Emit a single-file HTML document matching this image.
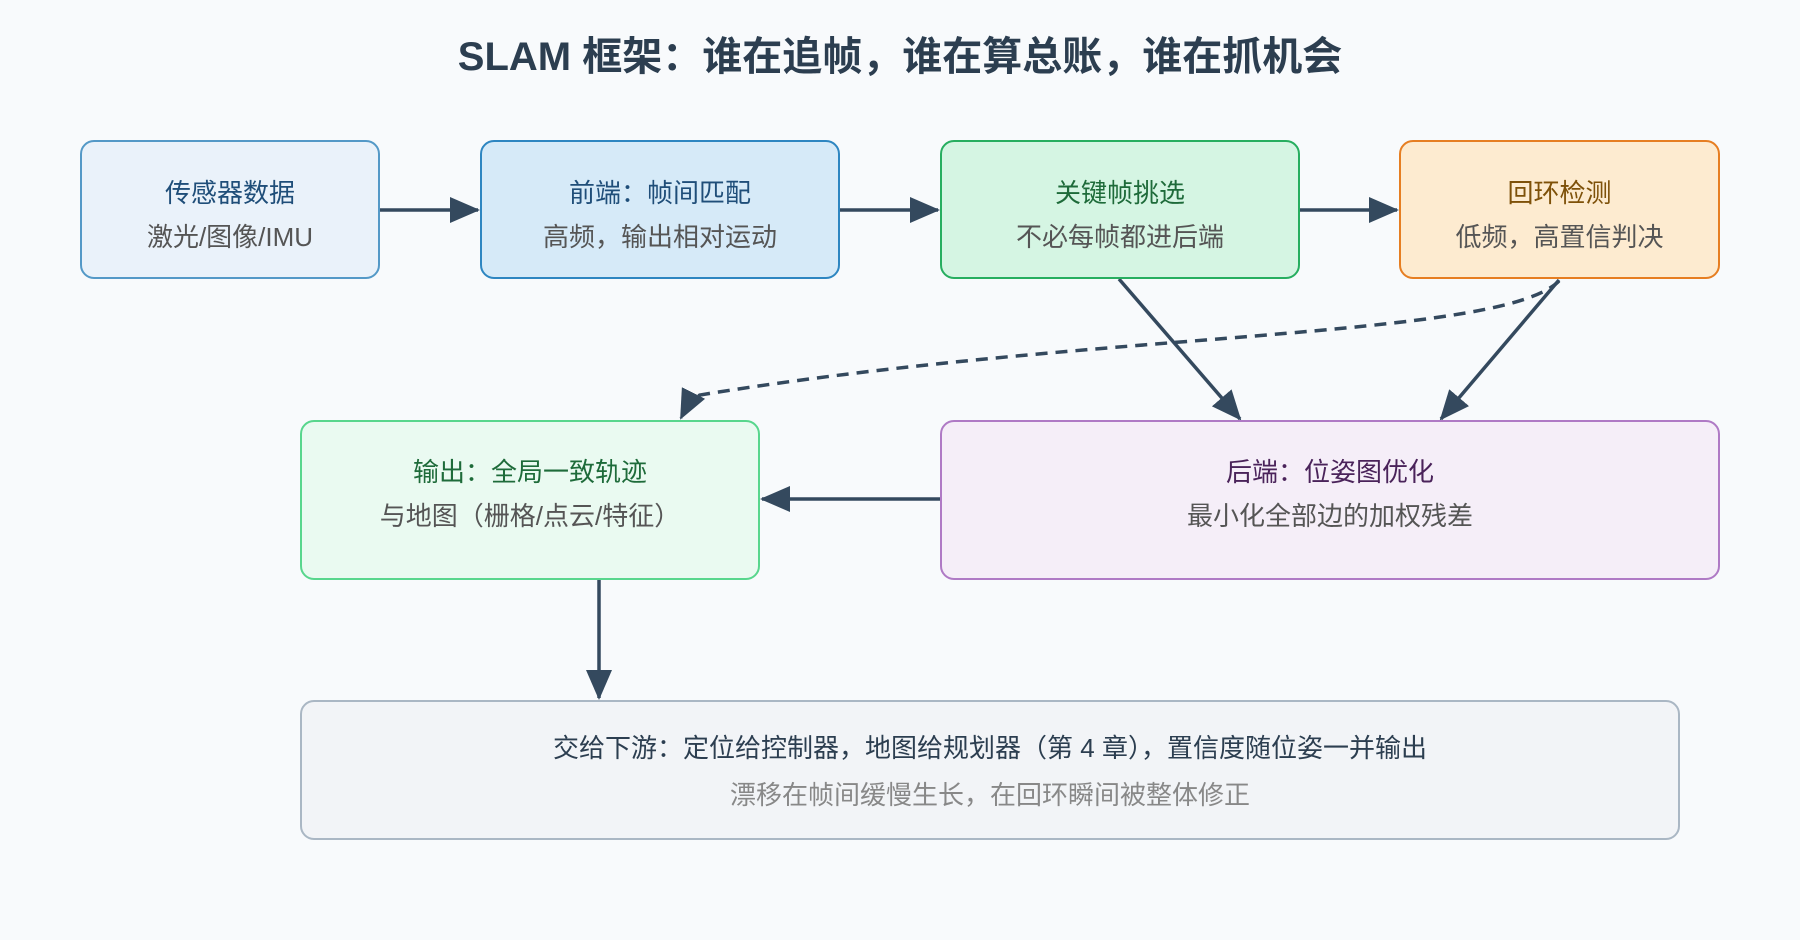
<!DOCTYPE html>
<html><head><meta charset="utf-8"><style>
body{margin:0;width:1800px;height:940px;background:#f8fafc;font-family:"Liberation Sans","Noto Sans CJK SC",sans-serif;position:relative;overflow:hidden}
.t{position:absolute;top:24px;left:0;width:1800px;text-align:center;font-size:40px;font-weight:bold;color:#2c3e50}
.b{position:absolute;box-sizing:border-box;border:2px solid;border-radius:14px;text-align:center;font-size:26px;color:#555}
.b div{position:absolute;left:0;width:100%}
.l1{top:31px}.l2{top:75px}
</style></head><body>
<div class="t">SLAM 框架：谁在追帧，谁在算总账，谁在抓机会</div>
<svg width="1800" height="940" style="position:absolute;left:0;top:0">
<defs><marker id="a" markerWidth="30" markerHeight="26" refX="28" refY="13" orient="auto" markerUnits="userSpaceOnUse"><path d="M0,0 L30,13 L0,26z" fill="#34495e"/></marker></defs>
<g stroke="#34495e" stroke-width="3.5" fill="none">
<line x1="380" y1="210" x2="478" y2="210" marker-end="url(#a)"/>
<line x1="840" y1="210" x2="938" y2="210" marker-end="url(#a)"/>
<line x1="1300" y1="210" x2="1397" y2="210" marker-end="url(#a)"/>
<line x1="1119" y1="279" x2="1240" y2="419" marker-end="url(#a)"/>
<line x1="1559" y1="280" x2="1441" y2="419" marker-end="url(#a)"/>
<path d="M1559,281 C1500,340 1100,330 700,395 Q690,400 681,418" stroke-dasharray="12,8" marker-end="url(#a)"/>
<line x1="940" y1="499" x2="762" y2="499" marker-end="url(#a)"/>
<line x1="599" y1="580" x2="599" y2="698" marker-end="url(#a)"/>
</g></svg>
<div class="b" style="left:80px;top:140px;width:300px;height:139px;background:#eaf2fa;border-color:#5499c7"><div class="l1" style="color:#1f4e79">传感器数据</div><div class="l2">激光/图像/IMU</div></div>
<div class="b" style="left:480px;top:140px;width:360px;height:139px;background:#d6eaf8;border-color:#2e86c1"><div class="l1" style="color:#1f4e79">前端：帧间匹配</div><div class="l2">高频，输出相对运动</div></div>
<div class="b" style="left:940px;top:140px;width:360px;height:139px;background:#d5f5e3;border-color:#27ae60"><div class="l1" style="color:#1e6b3a">关键帧挑选</div><div class="l2">不必每帧都进后端</div></div>
<div class="b" style="left:1399px;top:140px;width:321px;height:139px;background:#fdebd0;border-color:#e67e22"><div class="l1" style="color:#7e5109">回环检测</div><div class="l2">低频，高置信判决</div></div>
<div class="b" style="left:300px;top:420px;width:460px;height:160px;background:#eafaf1;border-color:#58d68d"><div class="l1" style="top:30px;color:#1e6b3a">输出：全局一致轨迹</div><div class="l2" style="top:74px">与地图（栅格/点云/特征）</div></div>
<div class="b" style="left:940px;top:420px;width:780px;height:160px;background:#f5eef8;border-color:#af7ac5"><div class="l1" style="top:30px;color:#4a235a">后端：位姿图优化</div><div class="l2" style="top:74px">最小化全部边的加权残差</div></div>
<div class="b" style="left:300px;top:700px;width:1380px;height:140px;background:#f2f4f7;border-color:#aab7c4"><div class="l1" style="top:26px;color:#2c3e50">交给下游：定位给控制器，地图给规划器（第 4 章），置信度随位姿一并输出</div><div class="l2" style="top:73px;color:#888">漂移在帧间缓慢生长，在回环瞬间被整体修正</div></div>
</body></html>
